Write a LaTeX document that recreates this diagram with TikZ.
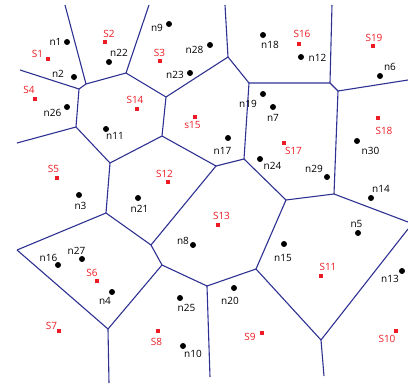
\documentclass[tikz,border=0pt]{standalone}
\usepackage{fontspec}
\setmainfont{Open Sans}
\usepackage{tikz}
\definecolor{edgeblue}{RGB}{46,49,146}
\definecolor{sitered}{RGB}{237,28,36}

\begin{document}
\begin{tikzpicture}[x=1pt,y=-1pt,
    nd/.style={circle,fill=black,inner sep=0pt,minimum size=6pt},
    st/.style={rectangle,fill=sitered,inner sep=0pt,minimum size=4.5pt},
    nlab/.style={inner sep=0pt,font=\fontsize{10}{12}\selectfont},
    slab/.style={nlab,text=sitered},
    ve/.style={edgeblue,line width=1.1pt}]
            \useasboundingbox (0,0) rectangle (408,386);
            % cell corners
            \coordinate (vA) at (86,84);
            \coordinate (vB) at (79,89);
            \coordinate (vC) at (126,73);
            \coordinate (vD) at (166,97);
            \coordinate (vE) at (162,136);
            \coordinate (vF) at (110,163);
            \coordinate (vG) at (76,127);
            \coordinate (vH) at (228,57);
            \coordinate (vI) at (249,83);
            \coordinate (vJ) at (330,83);
            \coordinate (vK) at (338,91);
            \coordinate (vL) at (216,166);
            \coordinate (vM) at (244,159);
            \coordinate (vN) at (286,200);
            \coordinate (vO) at (334,194);
            \coordinate (vP) at (106,213);
            \coordinate (vQ) at (151,245);
            \coordinate (vR) at (162,265);
            \coordinate (vS) at (108,329);
            \coordinate (vT) at (17,250);
            \coordinate (vU) at (256,269);
            \coordinate (vV) at (207,286);
            \coordinate (vW) at (321,340);
            % open ends
            \coordinate (top1) at (65,5);
            \coordinate (top2) at (149,5);
            \coordinate (top3) at (225,5);
            \coordinate (top4) at (332,5);
            \coordinate (left1) at (20,70);
            \coordinate (left2) at (17,143);
            \coordinate (right1) at (408,80);
            \coordinate (right2) at (408,222);
            \coordinate (right3) at (408,229);
            \coordinate (bot1) at (324,376);
            \coordinate (bot2) at (210,377);
            \coordinate (bot3) at (109,383);

            \draw[ve] (top1)--(vA) (left1)--(vB) (top2)--(vC) (vG)--(left2);
            \draw[ve] (vH)--(top3) (vJ)--(top4) (vK)--(right1) (vO)--(right2);
            \draw[ve] (vW)--(right3) (vW)--(bot1) (vV)--(bot2) (vS)--(bot3);
            \draw[ve] (vA)--(vB) (vA)--(vC) (vC)--(vD) (vD)--(vE) (vE)--(vF);
            \draw[ve] (vF)--(vG) (vG)--(vB) (vD)--(vH) (vH)--(vI) (vI)--(vJ);
            \draw[ve] (vJ)--(vK) (vK)--(vO) (vI)--(vM) (vM)--(vL) (vL)--(vE);
            \draw[ve] (vL)--(vQ) (vM)--(vN) (vN)--(vO) (vN)--(vU) (vU)--(vV);
            \draw[ve] (vU)--(vW) (vV)--(vR) (vR)--(vQ) (vQ)--(vP) (vP)--(vF);
            \draw[ve] (vR)--(vS) (vP)--(vT) (vT)--(vS);

            % sites
            \node[st] (S1) at (48,59) {};   \node[slab] (lS1) at (37.5,54) {S1};
            \node[st] (S2) at (105,42) {};  \node[slab] (lS2) at (109,34) {S2};
            \node[st] (S3) at (160,61) {};  \node[slab] (lS3) at (159.5,52.5) {S3};
            \node[st] (S4) at (35,99) {};   \node[slab] (lS4) at (29,90) {S4};
            \node[st] (S5) at (57,178) {};  \node[slab] (lS5) at (53.5,168.5) {S5};
            \node[st] (S6) at (97,281) {};  \node[slab] (lS6) at (92,273) {S6};
            \node[st] (S7) at (59,331) {};  \node[slab] (lS7) at (51.5,325.5) {S7};
            \node[st] (S8) at (158,331) {}; \node[slab] (lS8) at (156.5,341.5) {S8};
            \node[st] (S9) at (262,333) {}; \node[slab] (lS9) at (250,336.5) {S9};
            \node[st] (S10) at (396,331) {}; \node[slab] (lS10) at (387,338.5) {S10};
            \node[st] (S11) at (321,276) {}; \node[slab] (lS11) at (328,266.5) {S11};
            \node[st] (S12) at (168,182) {}; \node[slab] (lS12) at (164.5,173.5) {S12};
            \node[st] (S13) at (218,225) {}; \node[slab] (lS13) at (221.5,215.5) {S13};
            \node[st] (S14) at (137,109) {}; \node[slab] (lS14) at (135,100) {S14};
            \node[st] (s15) at (195,117) {}; \node[slab] (ls15) at (192.5,125) {s15};
            \node[st] (S16) at (299,44) {};  \node[slab] (lS16) at (302,33.5) {S16};
            \node[st] (S17) at (284,143) {}; \node[slab] (lS17) at (293.5,150.5) {S17};
            \node[st] (S18) at (378,118) {}; \node[slab] (lS18) at (384,131) {S18};
            \node[st] (S19) at (373,46) {};  \node[slab] (lS19) at (374,37.5) {S19};

            % nodes
            \node[nd] (n1) at (67,42) {};   \node[nlab] (ln1) at (55.5,42) {n1};
            \node[nd] (n2) at (74,77) {};   \node[nlab] (ln2) at (58,73.5) {n2};
            \node[nd] (n3) at (79,195) {};  \node[nlab] (ln3) at (80.5,206) {n3};
            \node[nd] (n4) at (112,292) {}; \node[nlab] (ln4) at (105,301) {n4};
            \node[nd] (n5) at (358,233) {}; \node[nlab] (ln5) at (356.5,223.5) {n5};
            \node[nd] (n6) at (380,76) {};  \node[nlab] (ln6) at (390,67) {n6};
            \node[nd] (n7) at (273,107) {}; \node[nlab] (ln7) at (273,118) {n7};
            \node[nd] (n8) at (193,245) {}; \node[nlab] (ln8) at (183,241) {n8};
            \node[nd] (n9) at (169,24) {};  \node[nlab] (ln9) at (157,28) {n9};
            \node[nd] (n10) at (183,346) {}; \node[nlab] (ln10) at (193,354) {n10};
            \node[nd] (n11) at (106,129) {}; \node[nlab] (ln11) at (115,136) {n11};
            \node[nd] (n12) at (301,57) {};  \node[nlab] (ln12) at (317.5,57.5) {n12};
            \node[nd] (n13) at (402,271) {}; \node[nlab] (ln13) at (390,279) {n13};
            \node[nd] (n14) at (371,198) {}; \node[nlab] (ln14) at (381,189) {n14};
            \node[nd] (n15) at (284,244) {}; \node[nlab] (ln15) at (283,257.5) {n15};
            \node[nd] (n16) at (58,265) {};  \node[nlab] (ln16) at (48.5,258) {n16};
            \node[nd] (n17) at (228,138) {}; \node[nlab] (ln17) at (222.5,151) {n17};
            \node[nd] (n18) at (263,35) {};  \node[nlab] (ln18) at (270,44.5) {n18};
            \node[nd] (n19) at (263,94) {};  \node[nlab] (ln19) at (248,103.5) {n19};
            \node[nd] (n20) at (234,288) {}; \node[nlab] (ln20) at (230,300.5) {n20};
            \node[nd] (n21) at (138,198) {}; \node[nlab] (ln21) at (139.5,209) {n21};
            \node[nd] (n22) at (109,62) {};  \node[nlab] (ln22) at (119,52.5) {n22};
            \node[nd] (n23) at (190,73) {};  \node[nlab] (ln23) at (175,74.5) {n23};
            \node[nd] (n24) at (260,159) {}; \node[nlab] (ln24) at (272.5,166) {n24};
            \node[nd] (n25) at (180,298) {}; \node[nlab] (ln25) at (186.5,308) {n25};
            \node[nd] (n26) at (67,107) {};  \node[nlab] (ln26) at (52.5,113) {n26};
            \node[nd] (n27) at (82,259) {};  \node[nlab] (ln27) at (76.5,251) {n27};
            \node[nd] (n28) at (210,45) {};  \node[nlab] (ln28) at (194.5,50) {n28};
            \node[nd] (n29) at (327,177) {}; \node[nlab] (ln29) at (314,169) {n29};
            \node[nd] (n30) at (357,141) {}; \node[nlab] (ln30) at (370.5,151) {n30};
        \end{tikzpicture}
\end{document}
